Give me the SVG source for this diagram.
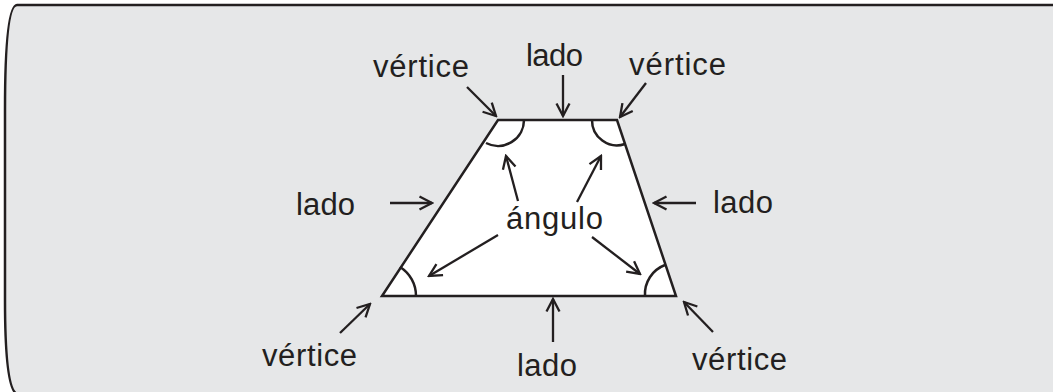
<svg xmlns="http://www.w3.org/2000/svg" width="1053" height="392" viewBox="0 0 1053 392">
<defs>
<marker id="ah" viewBox="0 0 16 16" refX="14" refY="8" markerWidth="16" markerHeight="16" markerUnits="userSpaceOnUse" orient="auto">
<path d="M1.5,1.5 L14,8 L1.5,14.5" fill="none" stroke="#231f20" stroke-width="2.3"/>
</marker>
<style>
.t{font-family:"Liberation Sans",Arial,sans-serif;font-size:31px;fill:#231f20}
.a{stroke:#231f20;stroke-width:2.3;fill:none;marker-end:url(#ah)}
.e{stroke:#231f20;stroke-width:2.5;fill:none}
</style>
</defs>
<g id="panel">
<path d="M1056,5 H17 C9,5 5,40 5,110 V300 C5,360 9,391 17,394 H1056 Z" fill="#e6e7e8" stroke="#231f20" stroke-width="2.5"/>
</g>
<g id="trapezoid">
<path d="M498,120 L617,120 L676,296 L382,296 Z" fill="#ffffff" stroke="#231f20" stroke-width="2.5" stroke-linejoin="miter"/>
<path class="e" d="M524,120 A26,26 0 0 1 486,143"/>
<path class="e" d="M592,120 A25,25 0 0 0 625,144"/>
<path class="e" d="M416,296 A34,34 0 0 0 400,267"/>
<path class="e" d="M645,296 A31,31 0 0 1 665,265"/>
</g>
<g id="connectors">
<line class="a" x1="467" y1="87" x2="496" y2="116"/>
<line class="a" x1="563" y1="75" x2="563" y2="116"/>
<line class="a" x1="646" y1="83" x2="620" y2="117"/>
<line class="a" x1="390" y1="203" x2="432" y2="203"/>
<line class="a" x1="696" y1="203" x2="654" y2="203"/>
<line class="a" x1="518" y1="201" x2="506" y2="156"/>
<line class="a" x1="577" y1="202" x2="601" y2="156"/>
<line class="a" x1="498" y1="235" x2="429" y2="276"/>
<line class="a" x1="592" y1="237" x2="640" y2="274"/>
<line class="a" x1="340" y1="333" x2="370" y2="304"/>
<line class="a" x1="553" y1="342" x2="553" y2="299"/>
<line class="a" x1="713" y1="332" x2="684" y2="302"/>
</g>
<g id="label-vertice-tl"><text class="t" x="373" y="77" textLength="96" lengthAdjust="spacing">vértice</text></g>
<g id="label-lado-top"><text class="t" x="526" y="66" textLength="57" lengthAdjust="spacing">lado</text></g>
<g id="label-vertice-tr"><text class="t" x="629" y="75" textLength="97" lengthAdjust="spacing">vértice</text></g>
<g id="label-lado-left"><text class="t" x="296" y="215" textLength="59" lengthAdjust="spacing">lado</text></g>
<g id="label-lado-right"><text class="t" x="713" y="213" textLength="60" lengthAdjust="spacing">lado</text></g>
<g id="label-angulo"><text class="t" x="506" y="229" textLength="97" lengthAdjust="spacing">ángulo</text></g>
<g id="label-vertice-bl"><text class="t" x="262" y="366" textLength="95" lengthAdjust="spacing">vértice</text></g>
<g id="label-lado-bottom"><text class="t" x="517" y="376" textLength="60" lengthAdjust="spacing">lado</text></g>
<g id="label-vertice-br"><text class="t" x="692" y="370" textLength="95" lengthAdjust="spacing">vértice</text></g>
</svg>
